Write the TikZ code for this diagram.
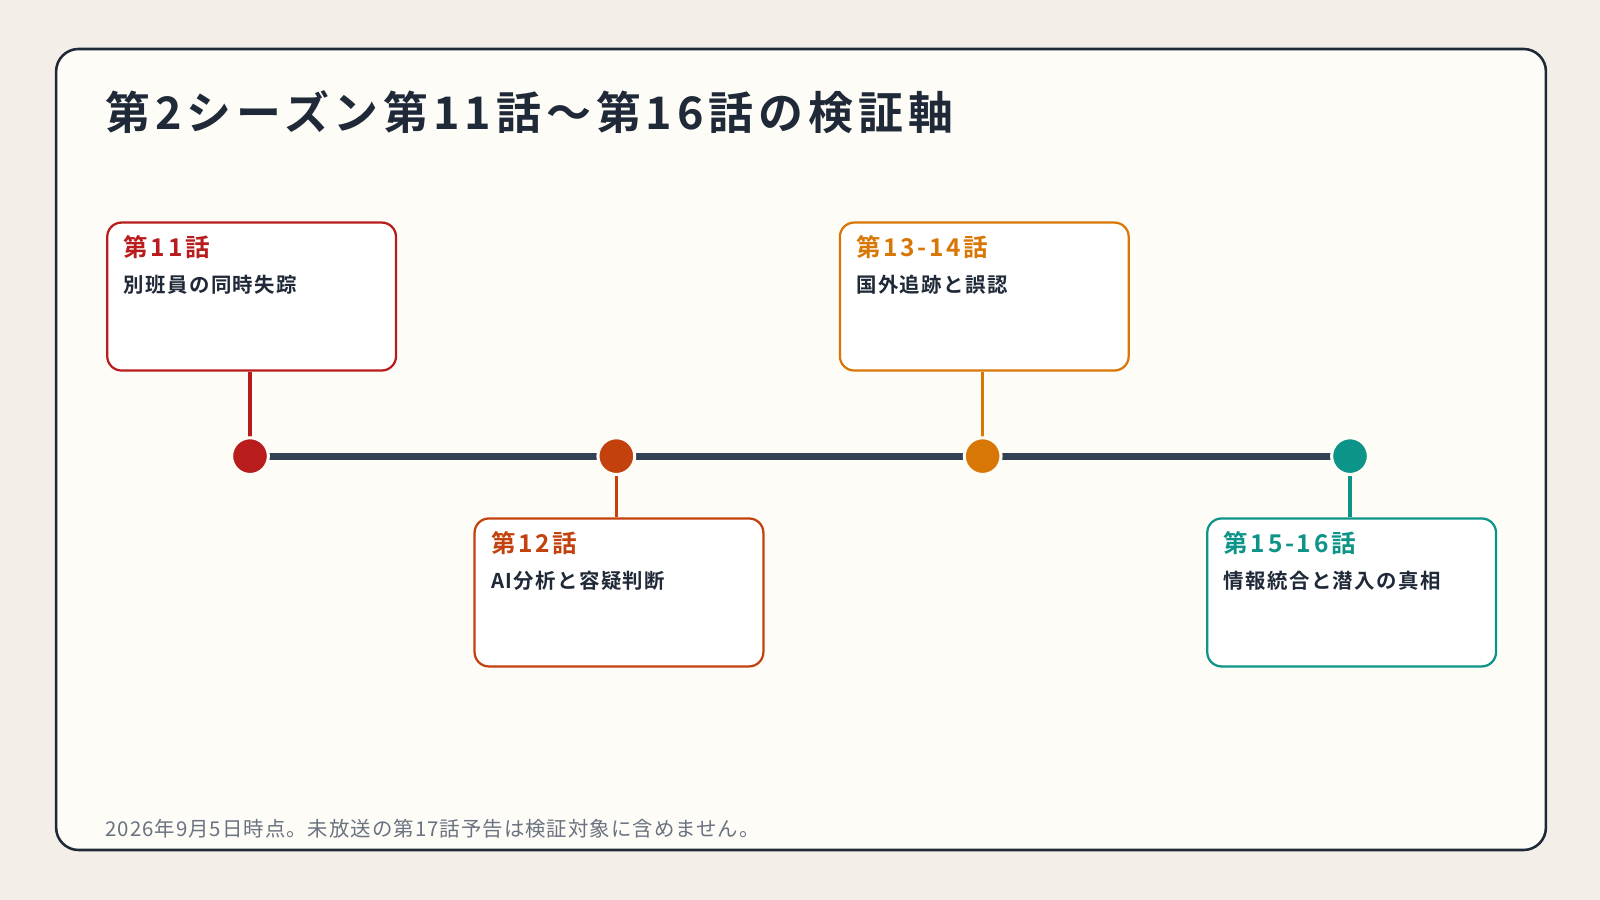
\documentclass[tikz,border=0pt]{standalone}
\usepackage{fontspec}
\setmainfont{Noto Sans CJK JP}[BoldFont={Noto Sans CJK JP Bold}]
\definecolor{bg}{HTML}{F3EFE8}
\definecolor{panel}{HTML}{FDFCF7}
\definecolor{ink}{HTML}{1F2937}
\definecolor{axis}{HTML}{334155}
\definecolor{cA}{HTML}{B91C1C}
\definecolor{cB}{HTML}{C2410C}
\definecolor{cC}{HTML}{D97706}
\definecolor{cD}{HTML}{0D9488}
\definecolor{note}{HTML}{6B7280}
\begin{document}
\begin{tikzpicture}[x=1pt,y=-1pt,
  card/.style={draw=#1,line width=2.2pt,fill=white,rounded corners=14pt,minimum width=283pt,minimum height=145pt,anchor=north west},
  dot/.style={circle,fill=#1,draw=panel,line width=3pt,minimum size=36pt,inner sep=0},
  stem/.style={draw=#1,line width=3pt},
  ttl/.style={anchor=base west,font=\fontsize{24}{28}\selectfont\bfseries\addfontfeature{LetterSpace=11},text=#1},
  sub/.style={anchor=base west,font=\fontsize{20}{24}\selectfont\bfseries\addfontfeature{LetterSpace=7},text=ink}]
\fill[bg] (0,0) rectangle (1568,882);
\useasboundingbox (0,0) rectangle (1568,882);
\draw[ink,line width=2.5pt,fill=panel,rounded corners=22pt] (55,48) rectangle (1515,833);
\node[anchor=base west,text=ink,font=\fontsize{44}{50}\selectfont\bfseries\addfontfeature{LetterSpace=11},inner sep=0] (title) at (103,127) {第2シーズン第11話〜第16話の検証軸};
% cards
\node[card=cA] (b1) at (104,217) {};
\node[card=cB] (b2) at (464,507) {};
\node[card=cC] (b3) at (822,217) {};
\node[card=cD] (b4) at (1182,507) {};
\node[ttl=cA,inner sep=0] (t1) at (121,251) {第11話};
\node[sub,inner sep=0] (s1) at (121,287) {別班員の同時失踪};
\node[ttl=cB,inner sep=0] (t2) at (481,541) {第12話};
\node[sub,inner sep=0] (s2) at (481,577) {AI分析と容疑判断};
\node[ttl=cC,inner sep=0] (t3) at (839,251) {第13-14話};
\node[sub,inner sep=0] (s3) at (839,287) {国外追跡と誤認};
\node[ttl=cD,inner sep=0] (t4) at (1199,541) {第15-16話};
\node[sub,inner sep=0] (s4) at (1199,577) {情報統合と潜入の真相};
% axis
\coordinate (p1) at (245,447);
\coordinate (p2) at (604,447);
\coordinate (p3) at (963,447);
\coordinate (p4) at (1323,447);
\draw[axis,line width=7pt] (p1) -- (p4);
\draw[stem=cA] (b1.south -| p1) -- (p1);
\draw[stem=cB] (b2.north -| p2) -- (p2);
\draw[stem=cC] (b3.south -| p3) -- (p3);
\draw[stem=cD] (b4.north -| p4) -- (p4);
\node[dot=cA] (d1) at (p1) {};
\node[dot=cB] (d2) at (p2) {};
\node[dot=cC] (d3) at (p3) {};
\node[dot=cD] (d4) at (p4) {};
\node[anchor=base west,text=note,font=\fontsize{20}{24}\selectfont\addfontfeature{LetterSpace=5},inner sep=0] (fn) at (103,820) {2026年9月5日時点。未放送の第17話予告は検証対象に含めません。};
\end{tikzpicture}
\end{document}
